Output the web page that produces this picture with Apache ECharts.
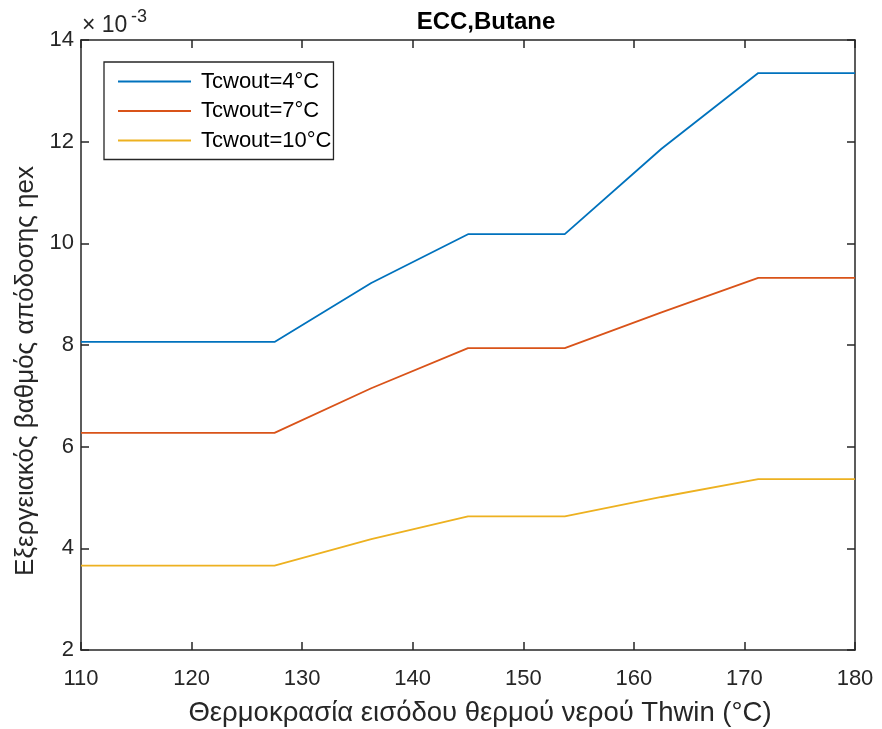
<!DOCTYPE html>
<html>
<head>
<meta charset="utf-8">
<script src="https://cdn.jsdelivr.net/npm/echarts@6/dist/echarts.min.js"></script>
<style>html,body{margin:0;padding:0;background:#fff}#c{width:882px;height:729px}</style>
</head>
<body>
<div id="c"></div>
<script>
// Thwin (°C)
const xValues = [110, 118.75, 127.5, 136.25, 145, 153.75, 162.5, 171.25, 180];
// ηex values, in units of 10^-3
const tc4  = [8.06, 8.06, 8.06, 9.22, 10.18, 10.18, 11.86, 13.35, 13.35];
const tc7  = [6.27, 6.27, 6.27, 7.15, 7.94, 7.94, 8.64, 9.32, 9.32];
const tc10 = [3.66, 3.66, 3.66, 4.18, 4.63, 4.63, 5.01, 5.36, 5.36];
const seriesNames = ['Tcwout=4°C', 'Tcwout=7°C', 'Tcwout=10°C'];
const xTicks = [110, 120, 130, 140, 150, 160, 170, 180];
const yTicks = [2, 4, 6, 8, 10, 12, 14];
const titleText = 'ECC,Butane';
const xName = 'Θερμοκρασία εισόδου θερμού νερού Thwin (°C)';
const yName = 'Εξεργειακός βαθμός απόδοσης ηex';

const FONT = '"Liberation Sans", Arial, Helvetica, sans-serif';
const AX = '#262626';
const colors = ['#0072BD', '#D95319', '#EDB120'];
const allData = [tc4, tc7, tc10];

const chart = echarts.init(document.getElementById('c'), null, {renderer: 'canvas'});

const axisLine = {show: true, onZero: false, lineStyle: {color: AX, width: 1.5}};
const axisTick = {show: true, inside: true, length: 8, lineStyle: {color: AX, width: 1.5}};

chart.setOption({
  animation: false,
  backgroundColor: '#fff',
  color: colors,
  title: {
    text: titleText,
    left: 481, top: 5, textAlign: 'center',
    textStyle: {fontFamily: FONT, fontSize: 24, fontWeight: 'bold', color: '#000'}
  },
  grid: {left: 81, top: 40, right: 27, bottom: 79},
  legend: {
    orient: 'vertical',
    left: 104, top: 62,
    data: seriesNames,
    icon: 'rect',
    itemWidth: 73, itemHeight: 2,
    itemGap: 7.5,
    padding: [8.5, 2, 8, 14],
    borderColor: AX, borderWidth: 1.3,
    backgroundColor: '#fff',
    textStyle: {fontFamily: FONT, fontSize: 22, color: '#000', padding: [0, 0, 0, 5], lineHeight: 22}
  },
  xAxis: [
    {
      type: 'value', min: 110, max: 180, interval: 10,
      axisLine: axisLine, splitLine: {show: false},
      axisTick: Object.assign({customValues: xTicks}, axisTick),
      axisLabel: {fontFamily: FONT, fontSize: 22, color: AX, margin: 18, customValues: xTicks}
    },
    {
      type: 'value', min: 110, max: 180, interval: 10, position: 'top',
      axisLine: axisLine, axisTick: axisTick, splitLine: {show: false},
      axisLabel: {show: false}
    }
  ],
  yAxis: [
    {
      type: 'value', min: 2, max: 14, interval: 2,
      axisLine: axisLine, splitLine: {show: false},
      axisTick: Object.assign({customValues: yTicks}, axisTick),
      axisLabel: {fontFamily: FONT, fontSize: 22, color: AX, margin: 7, customValues: yTicks}
    },
    {
      type: 'value', min: 2, max: 14, interval: 2, position: 'right',
      axisLine: axisLine, axisTick: axisTick, splitLine: {show: false},
      axisLabel: {show: false}
    }
  ],
  graphic: [
    {
      type: 'text', x: 82, y: 26,
      style: {text: '× 10', fontFamily: FONT, fontSize: 23, fill: AX, verticalAlign: 'middle', align: 'left'}
    },
    {
      type: 'text', x: 131, y: 17,
      style: {text: '-3', fontFamily: FONT, fontSize: 18, fill: AX, verticalAlign: 'middle', align: 'left'}
    },
    {
      type: 'text', x: 480, y: 713,
      style: {text: xName, fontFamily: FONT, fontSize: 27.5, fill: AX, verticalAlign: 'middle', align: 'center'}
    },
    {
      type: 'text', x: 26, y: 371, rotation: Math.PI / 2,
      style: {text: yName, fontFamily: FONT, fontSize: 26, fill: AX, verticalAlign: 'middle', align: 'center'}
    }
  ],
  series: allData.map((d, i) => ({
    name: seriesNames[i],
    type: 'line',
    data: xValues.map((x, j) => [x, d[j]]),
    showSymbol: false,
    symbol: 'none',
    lineStyle: {width: 1.8, color: colors[i]},
    itemStyle: {color: colors[i]}
  }))
});
</script>
</body>
</html>
